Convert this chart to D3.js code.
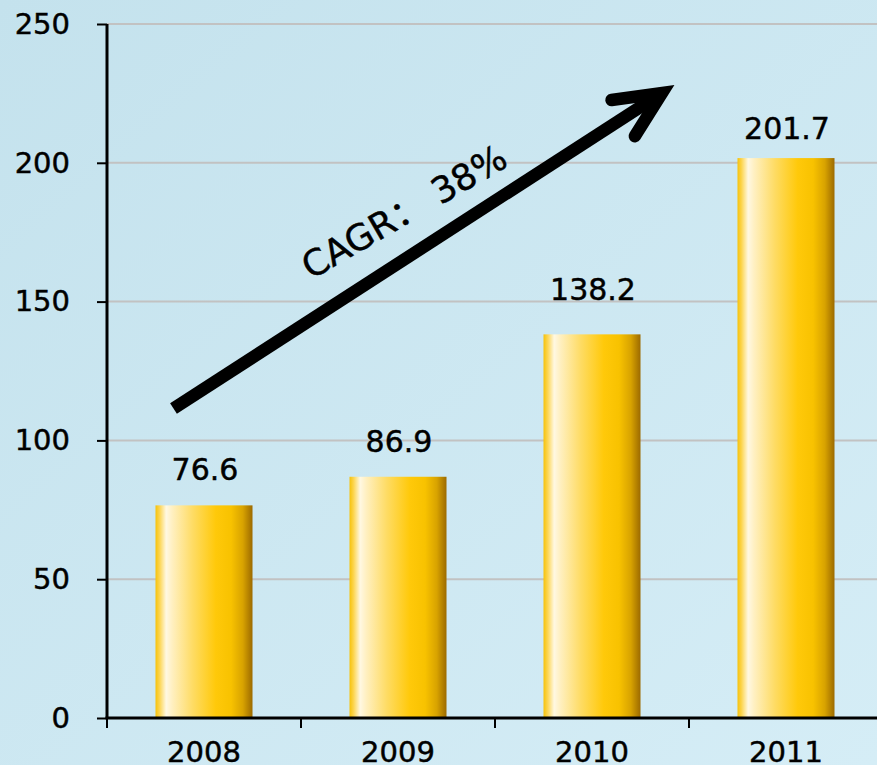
<!DOCTYPE html>
<html>
<head>
<meta charset="UTF-8" />
<title>CAGR 38%</title>
<script src="https://d3js.org/d3.v7.min.js"></script>
<style type="text/css">
html, body {
    margin: 0;
    padding: 0;
    overflow: hidden;
}
svg {
    display: block;
    font-family: "DejaVu Sans", "Noto Sans CJK SC", sans-serif;
}
svg text {
    stroke: #000;
    stroke-width: 0.45px;
}
</style>
</head>
<body>
<svg id="chart" width="877" height="765"></svg>

<script type="text/javascript">
// 数据
var years = ['2008', '2009', '2010', '2011'];
var values = [76.6, 86.9, 138.2, 201.7];
var yTicks = [0, 50, 100, 150, 200, 250];
var cagrText = 'CAGR：\u00a038%';

var svg = d3.select('#chart'),
    width = +svg.attr('width'),
    height = +svg.attr('height');

// 绘图区边界 (注意 window.top 是只读的, 不能用 top 作变量名)
var plotLeft = 107, plotBottom = 718, plotTop = 24;
// 数值标签离柱顶的距离(原图是手动摆放的)
var labelGap = [25, 25, 34, 19];

// 比例尺
var x = d3.scaleBand().domain(years).range([plotLeft, plotLeft + 4 * 194])
    .paddingInner(0.5).paddingOuter(0.25);
var y = d3.scaleLinear().domain([0, 250]).range([plotBottom, plotTop]);

var defs = svg.append('defs');

// 背景渐变
var bg = defs.append('linearGradient').attr('id', 'bg')
    .attr('x1', '0').attr('y1', '0').attr('x2', '1').attr('y2', '1');
bg.append('stop').attr('offset', '0%').attr('stop-color', '#c4e2ed');
bg.append('stop').attr('offset', '100%').attr('stop-color', '#d5edf6');

// 柱子金色渐变
var bar = defs.append('linearGradient').attr('id', 'gold')
    .attr('x1', '0').attr('y1', '0').attr('x2', '1').attr('y2', '0');
[['0%', '#f6c20a'], ['4%', '#fcd44c'], ['11%', '#fff8e2'], ['17%', '#fff0c2'],
 ['38%', '#fedc66'], ['62%', '#ffc90a'], ['78%', '#f8c200'], ['90%', '#d8a300'], ['100%', '#9c6a00']]
    .forEach(function(s) {
        bar.append('stop').attr('offset', s[0]).attr('stop-color', s[1]);
    });

svg.append('rect').attr('width', width).attr('height', height).attr('fill', 'url(#bg)');

// 网格线
svg.append('g').selectAll('line').data(yTicks.filter(function(d) { return d > 0; })).enter()
    .append('line')
    .attr('x1', plotLeft).attr('x2', width)
    .attr('y1', function(d) { return y(d); }).attr('y2', function(d) { return y(d); })
    .attr('stroke', '#c2c2c2').attr('stroke-width', 2);

// 柱子
svg.append('g').selectAll('rect').data(values).enter()
    .append('rect')
    .attr('x', function(d, i) { return x(years[i]); })
    .attr('y', function(d) { return y(d); })
    .attr('width', x.bandwidth())
    .attr('height', function(d) { return plotBottom - y(d); })
    .attr('fill', 'url(#gold)');

// 数值标签
svg.append('g').selectAll('text').data(values).enter()
    .append('text')
    .attr('x', function(d, i) { return x(years[i]) + x.bandwidth() / 2 + 1; })
    .attr('y', function(d, i) { return y(d) - labelGap[i]; })
    .attr('text-anchor', 'middle')
    .attr('font-size', 30)
    .attr('fill', '#000')
    .text(function(d) { return d.toFixed(1); });

// Y轴
var yAxis = svg.append('g').attr('transform', 'translate(' + plotLeft + ',0)')
    .call(d3.axisLeft(y).tickValues(yTicks).tickSize(10).tickPadding(27));
yAxis.select('.domain').remove();
yAxis.selectAll('.tick line').attr('stroke', '#000').attr('stroke-width', 2);
yAxis.selectAll('.tick text').attr('font-size', 29).attr('fill', '#000')
    .attr('font-family', '"DejaVu Sans", sans-serif');
svg.append('line').attr('x1', plotLeft).attr('x2', plotLeft).attr('y1', plotTop).attr('y2', plotBottom + 1)
    .attr('stroke', '#000').attr('stroke-width', 3);

// X轴
var step = x.step();
var xTickPos = d3.range(years.length + 1).map(function(i) { return plotLeft + i * step; });
svg.append('g').selectAll('line').data(xTickPos).enter()
    .append('line')
    .attr('x1', function(d) { return d; }).attr('x2', function(d) { return d; })
    .attr('y1', plotBottom).attr('y2', plotBottom + 10)
    .attr('stroke', '#000').attr('stroke-width', 2);
svg.append('line').attr('x1', plotLeft - 1.5).attr('x2', width).attr('y1', plotBottom).attr('y2', plotBottom)
    .attr('stroke', '#000').attr('stroke-width', 3);
svg.append('g').selectAll('text').data(years).enter()
    .append('text')
    .attr('x', function(d) { return x(d) + x.bandwidth() / 2; })
    .attr('y', 762)
    .attr('text-anchor', 'middle')
    .attr('font-size', 29)
    .attr('fill', '#000')
    .text(function(d) { return d; });

// 增长箭头
var a0 = [173.5, 408.5], a1 = [662, 93];
var ang = Math.atan2(a1[1] - a0[1], a1[0] - a0[0]);
var back = ang + Math.PI, spread = 25 * Math.PI / 180, armLen = 51;
function arm(s) {
    return [a1[0] + armLen * Math.cos(back + s), a1[1] + armLen * Math.sin(back + s)];
}
svg.append('line')
    .attr('x1', a0[0]).attr('y1', a0[1]).attr('x2', a1[0]).attr('y2', a1[1])
    .attr('stroke', '#000').attr('stroke-width', 12.5);
svg.append('path')
    .attr('d', d3.line()([arm(-spread), a1, arm(spread)]))
    .attr('fill', 'none').attr('stroke', '#000').attr('stroke-width', 12.5)
    .attr('stroke-linecap', 'round').attr('stroke-linejoin', 'miter');

svg.append('text')
    .attr('transform', 'translate(311,280) rotate(-30)')
    .attr('font-size', 36)
    .attr('fill', '#000')
    .text(cagrText);
</script>
</body>
</html>
